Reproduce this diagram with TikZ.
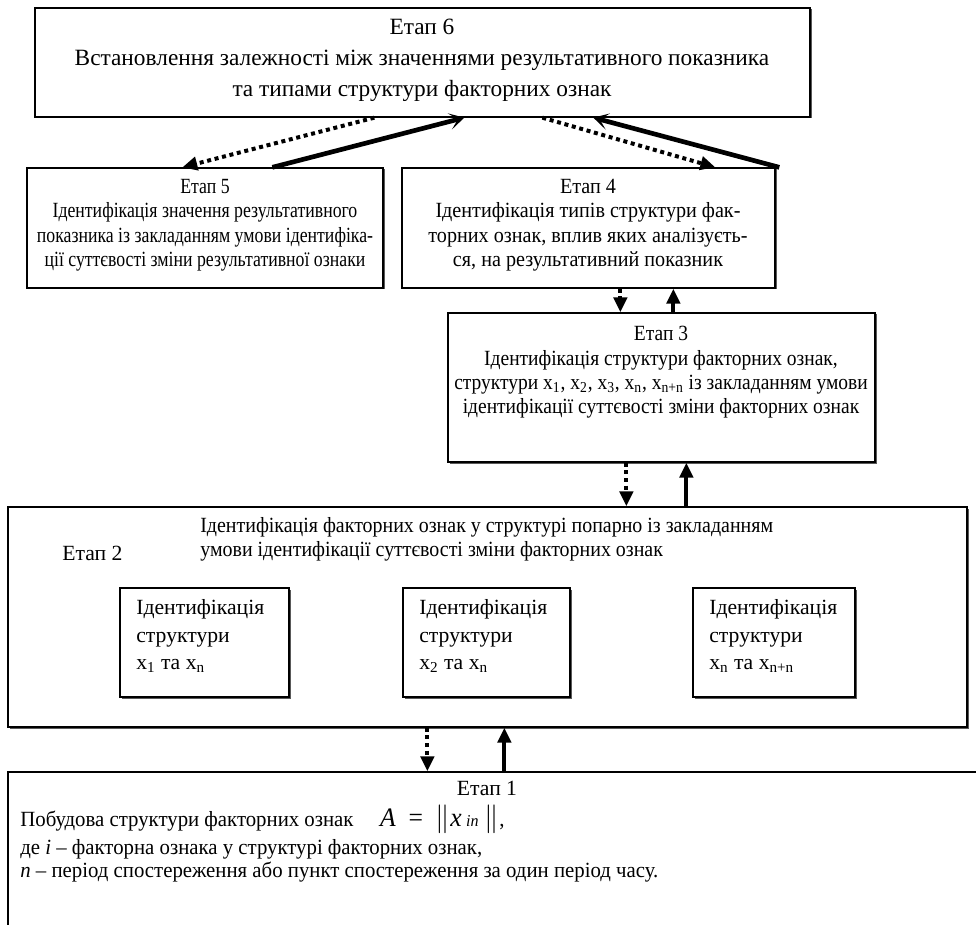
\documentclass[tikz,border=0pt]{standalone}
\usepackage{fontspec}
\setmainfont{Liberation Serif}
\newfontfamily\stagefivefont{Liberation Serif}[FakeStretch=0.82]
\newfontfamily\stagefourfont{Liberation Serif}[FakeStretch=0.93]
\newfontfamily\stagethreefont{Liberation Serif}[FakeStretch=0.9]
\newfontfamily\stagetwofont{Liberation Serif}[FakeStretch=0.92]
\newfontfamily\stageonefont{Liberation Serif}[FakeStretch=0.96]
\usetikzlibrary{positioning, arrows.meta, calc, fit, shadows}

\begin{document}
\begin{tikzpicture}[x=0.6pt, y=-0.6pt,
  stage/.style={draw, line width=0.8pt, fill=white, inner sep=0pt,
                drop shadow={shadow xshift=0.9pt, shadow yshift=-0.9pt, fill=black!65, opacity=1}},
  txt/.style={font=\fontsize{13}{14.6}\selectfont, align=center, inner sep=0pt, anchor=north},
  ltxt/.style={txt, align=left, anchor=north west},
  arr/.style={-{Triangle[length=9pt, width=8pt]}, line width=2.4pt},
  darr/.style={arr, dash pattern=on 2.4pt off 2.2pt},
  barr/.style={-{Stealth[length=9pt, width=10pt, inset=5pt]}, line width=2.8pt},
]
\useasboundingbox (0,0) rectangle (976,925);

% Stage boxes
\node[stage, fit={(35,8) (810,117)}] (s6) {};
\node[stage, fit={(27,168) (383,288)}] (s5) {};
\node[stage, fit={(402,168) (775,288)}] (s4) {};
\node[stage, fit={(448,313) (875,462)}] (s3) {};
\node[stage, fit={(8,507) (967,727)}] (s2) {};
\node[stage, fit={(8,772) (995,960)}] (s1) {};

% Inner boxes of stage 2
\node[stage, fit={(120,588) (289,697)}] (p1) {};
\node[stage, fit={(403,588) (570,697)}] (p2) {};
\node[stage, fit={(693,588) (855,697)}] (p3) {};

% Texts
\node[txt, font=\fontsize{14}{15.6}\selectfont] (t6) at (422,19) {Етап 6\\[3pt]Встановлення залежності між значеннями результативного показника\\[3pt]та типами структури факторних ознак};
\node[txt, font=\fontsize{13}{14.6}\stagefivefont] (t5) at (205,179) {Етап 5\\Ідентифікація значення результативного\\показника із закладанням умови ідентифіка-\\ції суттєвості зміни результативної ознаки};
\node[txt, font=\fontsize{13}{14.6}\stagefourfont] (t4) at (588,179) {Етап 4\\Ідентифікація типів структури фак-\\торних ознак, вплив яких аналізуєть-\\ся, на результативний показник};
\node[txt, font=\fontsize{13}{14.6}\stagethreefont] (t3) at (661,326) {Етап 3\\Ідентифікація структури факторних ознак,\\структури x\textsubscript{1}, x\textsubscript{2}, x\textsubscript{3}, x\textsubscript{n}, x\textsubscript{n+n} із закладанням умови\\ідентифікації суттєвості зміни факторних ознак};
\node[ltxt, font=\fontsize{13}{14.6}\stagetwofont] (t2) at (200,517) {Ідентифікація факторних ознак у структурі попарно із закладанням\\умови ідентифікації суттєвості зміни факторних ознак};
\node[txt, anchor=west] (e2) at (62,553) {Етап 2};
\node[ltxt, below right=7pt and 10pt of p1.north west, anchor=north west] (tp1) {Ідентифікація\\[2pt]структури\\[2pt]x\textsubscript{1} та x\textsubscript{n}};
\node[ltxt, below right=7pt and 10pt of p2.north west, anchor=north west] (tp2) {Ідентифікація\\[2pt]структури\\[2pt]x\textsubscript{2} та x\textsubscript{n}};
\node[ltxt, below right=7pt and 10pt of p3.north west, anchor=north west] (tp3) {Ідентифікація\\[2pt]структури\\[2pt]x\textsubscript{n} та x\textsubscript{n+n}};
\node[txt] (e1) at (487,781) {Етап 1};
\node[ltxt, font=\fontsize{13}{14.6}\stageonefont] (t1) at (20,805) {Побудова структури факторних ознак\hspace{16pt}{\fontsize{16}{16}\selectfont\itshape A\ \ \upshape=\ \ $\Bigl\|$\textit{x}\,{\fontsize{10}{10}\selectfont\textit{in}}\ $\Bigr\|$},\\[2pt]
де \textit{i} – факторна ознака у структурі факторних ознак,\\[-1pt]
\textit{n} – період спостереження або пункт спостереження за один період часу.};

% Arrows 6 <-> 5, 4
\draw[darr] ($(s6.south west)+(340,0)$) -- ($(s5.north west)+(156,0)$);
\draw[barr] ($(s5.north west)+(246,0)$) -- ($(s6.south west)+(430,0)$);
\draw[darr] ($(s6.south west)+(508,0)$) -- ($(s4.north west)+(314,0)$);
\draw[barr] ($(s4.north west)+(378,0)$) -- ($(s6.south west)+(559,0)$);

% Arrows 4 <-> 3
\draw[darr] ($(s4.south west)+(219,0)$) -- ($(s3.north west)+(173,0)$);
\draw[arr]  ($(s3.north west)+(226,0)$) -- ($(s4.south west)+(272,0)$);

% Arrows 3 <-> 2
\draw[darr] ($(s3.south west)+(179,0)$) -- ($(s2.north west)+(619,0)$);
\draw[arr]  ($(s2.north west)+(679,0)$) -- ($(s3.south west)+(239,0)$);

% Arrows 2 <-> 1
\draw[darr] ($(s2.south west)+(420,0)$) -- ($(s1.north west)+(420,0)$);
\draw[arr]  ($(s1.north west)+(497,0)$) -- ($(s2.south west)+(497,0)$);

\end{tikzpicture}
\end{document}
